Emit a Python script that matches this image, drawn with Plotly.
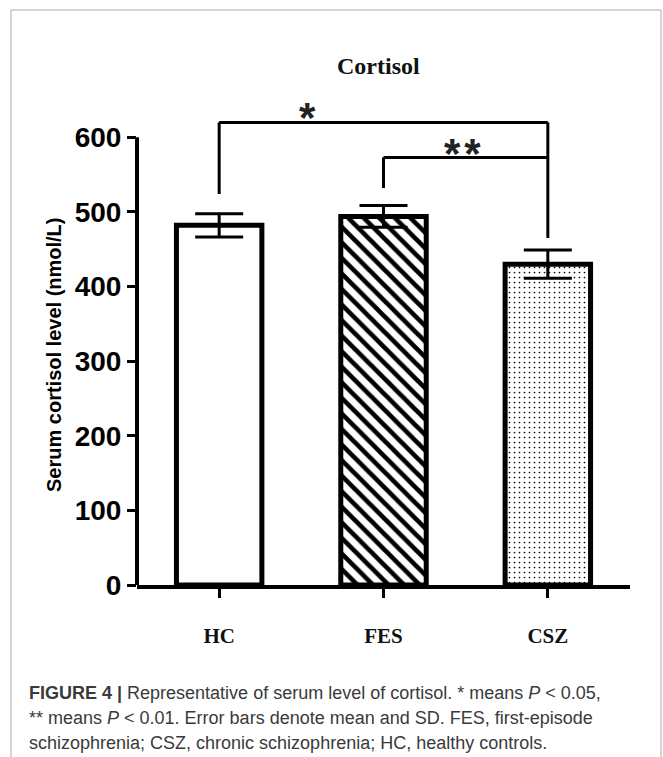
import plotly.graph_objects as go

# ---------------- data ----------------
categories = ["HC", "FES", "CSZ"]
means = [482, 494, 430]
sds = [15.5, 14.5, 19]
pattern_shapes = ["", "\\", "."]
pattern_sizes = [8, 11, 5]
pattern_solidity = [0.2, 0.42, 0.09]

y_ticks = [0, 100, 200, 300, 400, 500, 600]

# significance brackets: from category index, to category index, bracket height,
# left drop end, right drop end (None = no drop), label, label x (category units), label y
bracket_from = [0, 1]
bracket_to = [2, 2]
bracket_top = [620, 573]
bracket_left_end = [524, 532]
bracket_right_end = [465, None]
bracket_labels = ["*", "*<span style='font-size:14px'> </span>*"]
bracket_label_x = [0.54, 1.48]
bracket_label_y = [626, 578]

title_text = "Cortisol"
y_title = "Serum cortisol level (nmol/L)"
caption_lines = [
    "<b>FIGURE 4 |</b> Representative of serum level of cortisol. * means <i>P</i> &lt; 0.05,",
    "** means <i>P</i> &lt; 0.01. Error bars denote mean and SD. FES, first-episode",
    "schizophrenia; CSZ, chronic schizophrenia; HC, healthy controls.",
]

# ---------------- layout geometry (pixels) ----------------
W, H = 663, 757
ML, MR, MT, MB = 137, 33, 100, 172
PW = W - ML - MR
PH = H - MT - MB


def px_x(x):
    return (x - ML) / PW


def px_y(y):
    return (H - MB - y) / PH


SANS = "Liberation Sans, Arial"

fig = go.Figure()

fig.add_trace(go.Bar(
    x=list(range(len(categories))),
    y=means,
    width=0.52,
    marker=dict(
        color="white",
        line=dict(color="black", width=5),
        pattern=dict(shape=pattern_shapes, size=pattern_sizes,
                     solidity=pattern_solidity, fgcolor="black",
                     fgopacity=1, bgcolor="white", fillmode="overlay"),
    ),
    error_y=dict(type="data", array=sds, visible=True,
                 color="black", thickness=3, width=24),
    showlegend=False,
    hoverinfo="skip",
))

shapes = []
# y axis line (0 to 600 only)
shapes.append(dict(type="line", xref="paper", yref="y", x0=0, x1=0,
                   y0=y_ticks[0], y1=y_ticks[-1],
                   line=dict(color="black", width=4)))

annotations = []
for i in range(len(bracket_from)):
    xa, xb, top = bracket_from[i], bracket_to[i], bracket_top[i]
    shapes.append(dict(type="line", xref="x", yref="y", x0=xa, x1=xb,
                       y0=top, y1=top, line=dict(color="black", width=3)))
    shapes.append(dict(type="line", xref="x", yref="y", x0=xa, x1=xa,
                       y0=bracket_left_end[i], y1=top,
                       line=dict(color="black", width=3)))
    if bracket_right_end[i] is not None:
        shapes.append(dict(type="line", xref="x", yref="y", x0=xb, x1=xb,
                           y0=bracket_right_end[i], y1=top,
                           line=dict(color="black", width=3)))
    annotations.append(dict(
        x=bracket_label_x[i], y=bracket_label_y[i], xref="x", yref="y",
        text=bracket_labels[i], showarrow=False, xanchor="center",
        yanchor="middle",
        font=dict(family=SANS, size=42, color="#222222", weight="bold")))

# frame border
shapes.append(dict(type="rect", xref="paper", yref="paper",
                   x0=px_x(11), x1=px_x(661), y0=px_y(775), y1=px_y(10),
                   line=dict(color="#c8c8c8", width=1.5), layer="below"))

# title
annotations.append(dict(
    x=px_x(378.5), y=px_y(66), xref="paper", yref="paper",
    text=title_text, showarrow=False, xanchor="center", yanchor="middle",
    font=dict(family="Liberation Serif, Times New Roman", size=24,
              color="#111111", weight="bold")))

# y title
annotations.append(dict(
    x=px_x(54), y=px_y(355), xref="paper", yref="paper",
    text=y_title, showarrow=False, textangle=-90,
    xanchor="center", yanchor="middle",
    font=dict(family=SANS, size=20, color="black", weight="bold")))

# caption
for k, line in enumerate(caption_lines):
    annotations.append(dict(
        x=px_x(27), y=px_y(693 + 25 * k), xref="paper", yref="paper",
        text=line, showarrow=False, xanchor="left", yanchor="middle",
        align="left",
        font=dict(family=SANS, size=18, color="#3a3a3a")))

fig.update_layout(
    width=W, height=H,
    margin=dict(l=ML, r=MR, t=MT, b=MB, pad=0),
    paper_bgcolor="white", plot_bgcolor="white",
    shapes=shapes, annotations=annotations,
    bargap=0.4,
)

fig.update_xaxes(
    range=[-0.5, 2.5],
    tickmode="array", tickvals=list(range(len(categories))),
    ticktext=categories,
    showline=True, linecolor="black", linewidth=4,
    ticks="outside", ticklen=9, tickwidth=3, tickcolor="black",
    ticklabelstandoff=20,
    tickfont=dict(family="Liberation Serif, Times New Roman", size=21,
                  color="#111111", weight="bold"),
    showgrid=False, zeroline=False,
)

fig.update_yaxes(
    range=[0, 650],
    tickmode="array", tickvals=y_ticks,
    showline=False,
    ticks="outside", ticklen=9, tickwidth=3, tickcolor="black",
    tickfont=dict(family=SANS, size=28, color="black", weight="bold"),
    showgrid=False, zeroline=False,
)

fig.write_html("out.html")
